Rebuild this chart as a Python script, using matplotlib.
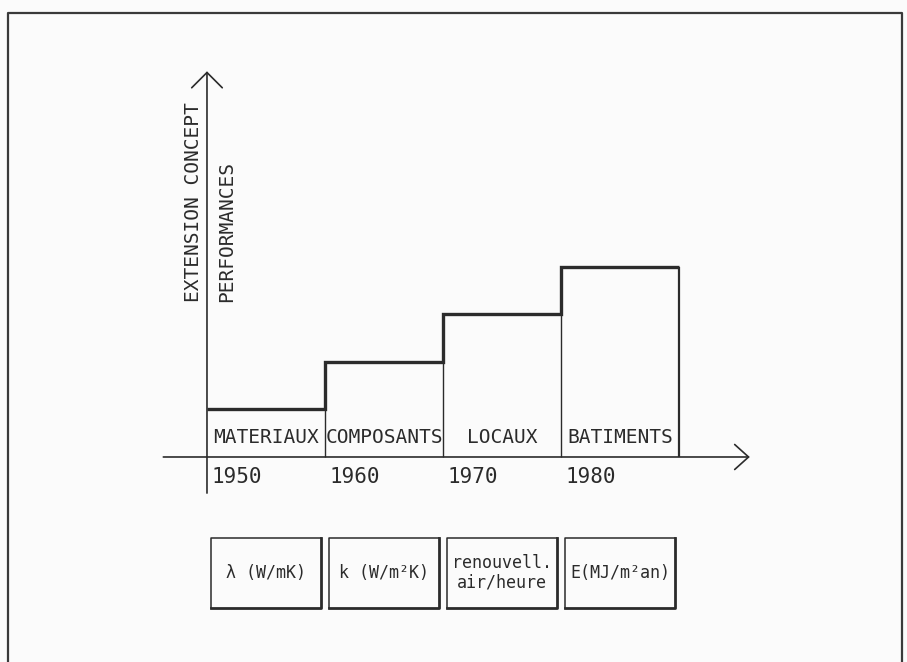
import numpy as np
import matplotlib
matplotlib.use("Agg")
import matplotlib.pyplot as plt

# data
years = [1950, 1960, 1970, 1980]
levels = [1, 2, 3, 4]
stages = ["MATERIAUX", "COMPOSANTS", "LOCAUX", "BATIMENTS"]
units = ["λ (W/mK)", "k (W/m²K)", "renouvell.\nair/heure", "E(MJ/m²an)"]
ylabel_1 = "EXTENSION CONCEPT"
ylabel_2 = "PERFORMANCES"

ink = "#2b2b2b"
mono = "DejaVu Sans Mono"

fig = plt.figure(figsize=(9.07, 6.62), dpi=100)
fig.patch.set_facecolor("#fbfbfb")
ax = fig.add_axes([0, 0, 1, 1])
ax.set_facecolor("#fbfbfb")
ax.set_xlim(1932.46, 2009.32)
ax.set_ylim(-4.316, 9.621)
ax.axis("off")

step = years[1] - years[0]
edges = years + [years[-1] + step]

# outer frame (no bottom edge, page continues)
ax.plot([0.009, 0.009, 0.9945, 0.9945], [-0.05, 0.980, 0.980, -0.05],
        transform=ax.transAxes, color="#3a3a3a", lw=1.6, clip_on=False)

# axes with arrows
ax.annotate("", xy=(edges[-1] + 6.0, 0), xytext=(years[0] - 3.7, 0),
            arrowprops=dict(arrowstyle="->,head_length=1.0,head_width=0.9",
                            lw=1.2, color=ink, shrinkA=0, shrinkB=0))
ax.annotate("", xy=(years[0], levels[-1] * 2.03), xytext=(years[0], -0.76),
            arrowprops=dict(arrowstyle="->,head_length=1.1,head_width=1.1",
                            lw=1.2, color=ink, shrinkA=0, shrinkB=0))

# steps
ax.stairs(levels, edges, baseline=None, color=ink, lw=2.4)
ax.vlines(edges[1:-1], 0, levels[:-1], color=ink, lw=1.0)
ax.vlines(edges[-1], 0, levels[-1], color=ink, lw=1.6)

# stage labels and years
for yr, name in zip(years, stages):
    ax.text(yr + step / 2, 0.42, name, ha="center", va="center",
            family=mono, fontsize=14, color=ink)
    ax.text(yr + 0.4, -0.42, str(yr), ha="left", va="center",
            family=mono, fontsize=15, color=ink)

ax.text(years[0] - 1.15, 3.26, ylabel_1, rotation=90, ha="center", va="bottom",
        family=mono, fontsize=14, color=ink)
ax.text(years[0] + 1.7, 3.26, ylabel_2, rotation=90, ha="center", va="bottom",
        family=mono, fontsize=14, color=ink)

# unit boxes
box_w = 9.4
box_top, box_bot = -1.70, -3.18
for yr, u in zip(years, units):
    x0 = yr + step / 2 - box_w / 2
    ax.plot([x0, x0, x0 + box_w], [box_bot, box_top, box_top], color=ink, lw=1.1)
    ax.plot([x0, x0 + box_w, x0 + box_w], [box_bot, box_bot, box_top], color=ink, lw=2.0)
    ax.text(yr + step / 2, (box_top + box_bot) / 2, u, ha="center", va="center",
            family=mono, fontsize=12, color=ink, linespacing=1.1)

fig.savefig("out.png", dpi=100, facecolor=fig.get_facecolor())
